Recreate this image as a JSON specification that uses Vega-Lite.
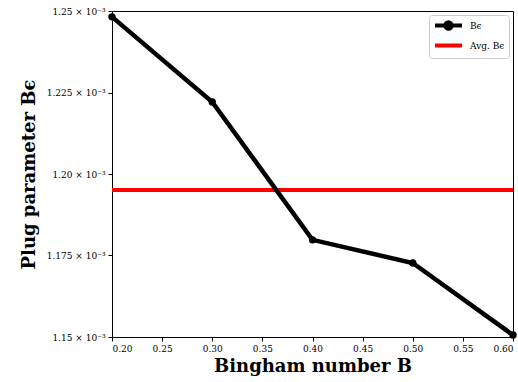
{
  "$schema": "https://vega.github.io/schema/vega-lite/v6.json",
  "width": 401,
  "height": 326,
  "autosize": {"type": "none"},
  "padding": {"left": 112, "top": 11, "right": 5, "bottom": 45},
  "background": "white",
  "config": {
    "font": "DejaVu Serif",
    "view": {"stroke": "black", "strokeWidth": 1},
    "axis": {
      "domainColor": "black",
      "tickColor": "black",
      "tickSize": 4,
      "grid": false,
      "labelFont": "DejaVu Serif",
      "labelFontSize": 9,
      "labelColor": "black",
      "titleFont": "DejaVu Serif",
      "titleFontWeight": "bold",
      "titleFontSize": 18,
      "titleColor": "black"
    }
  },
  "datasets": {
    "be": [
      {"B": 0.2, "value": 0.0012482, "series": "Bϵ"},
      {"B": 0.3, "value": 0.0012221, "series": "Bϵ"},
      {"B": 0.4, "value": 0.0011798, "series": "Bϵ"},
      {"B": 0.5, "value": 0.0011727, "series": "Bϵ"},
      {"B": 0.6, "value": 0.0011506, "series": "Bϵ"}
    ],
    "avg": [
      {"value": 0.0011951, "series": "Avg. Bϵ"}
    ]
  },
  "layer": [
    {
      "data": {"name": "avg"},
      "mark": {"type": "rule", "strokeWidth": 4},
      "encoding": {
        "y": {"field": "value", "type": "quantitative"},
        "color": {"field": "series", "type": "nominal"}
      }
    },
    {
      "data": {"name": "be"},
      "mark": {"type": "line", "strokeWidth": 4.5, "point": {"filled": true, "size": 55, "color": "black"}},
      "encoding": {
        "x": {
          "field": "B", "type": "quantitative",
          "scale": {"domain": [0.2, 0.6], "nice": false, "zero": false},
          "axis": {"values": [0.2, 0.25, 0.3, 0.35, 0.4, 0.45, 0.5, 0.55, 0.6], "format": ".2f", "title": "Bingham number B", "titlePadding": 4, "labelPadding": 3}
        },
        "y": {
          "field": "value", "type": "quantitative",
          "scale": {"domain": [0.00115, 0.00125], "nice": false, "zero": false},
          "axis": {
            "values": [0.00115, 0.001175, 0.0012, 0.001225, 0.00125],
            "labelExpr": "(format(datum.value*1000,'.3f')[4]=='0' ? format(datum.value*1000,'.2f') : format(datum.value*1000,'.3f')) + ' × 10⁻³'",
            "title": "Plug parameter Bϵ",
            "titlePadding": 8,
            "labelPadding": 3
          }
        },
        "color": {
          "field": "series", "type": "nominal",
          "scale": {"domain": ["Bϵ", "Avg. Bϵ"], "range": ["black", "red"]},
          "legend": {
            "title": null,
            "orient": "top-right",
            "offset": 4,
            "symbolType": "M-1,0H5",
            "symbolSize": 81,
            "symbolStrokeWidth": 4,
            "labelOffset": 24,
            "labelFont": "DejaVu Serif",
            "labelFontSize": 9,
            "labelColor": "black",
            "strokeColor": "#cccccc",
            "fillColor": "white",
            "cornerRadius": 3,
            "padding": 4,
            "rowPadding": 0,
            "encode": {
              "symbols": {
                "update": {
                  "shape": {"signal": "datum.value == 'Bϵ' ? 'M-1,0H5M2.7,0A0.7,0.7,0,1,1,1.3,0A0.7,0.7,0,1,1,2.7,0Z' : 'M-1,0H5'"},
                  "fill": {"signal": "datum.value == 'Bϵ' ? 'black' : 'transparent'"},
                  "fillOpacity": {"value": 1}
                }
              }
            }
          }
        }
      }
    }
  ]
}
